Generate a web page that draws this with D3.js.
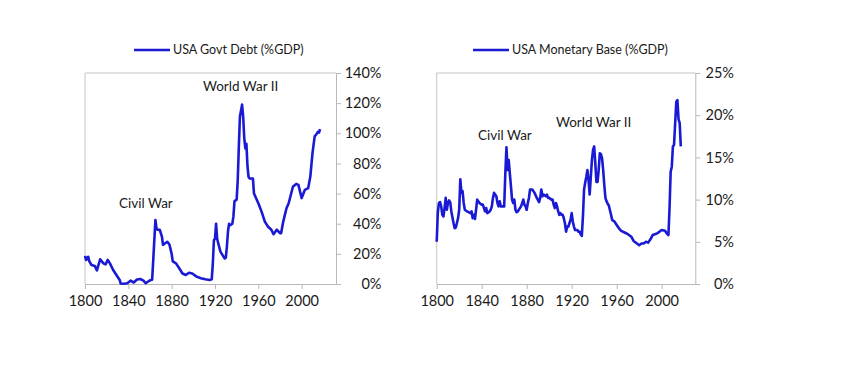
<!DOCTYPE html>
<meta charset="utf-8">
<style>
body { margin: 0; background: #fff; }
svg text { font-family: Lato, "Open Sans", sans-serif; fill: #1a1a1a; }
.axis path, .axis line { stroke: #b8b8b8; }
</style>
<svg width="852" height="366"></svg>
<script src="https://cdn.jsdelivr.net/npm/d3@7"></script>
<script>
// USA govt debt, % of GDP
var debtYears = [1800,1801,1803,1804,1806,1809,1811,1812,1814,1817,1819,1821,1823,1826,1829,1832,1833,1836,1839,1842,1845,1848,1851,1854,1856,1859,1861,1862,1863,1865,1866,1867,1869,1871,1872,1874,1876,1878,1880,1881,1884,1887,1890,1893,1896,1899,1903,1907,1911,1915,1917,1918,1919,1920,1921,1922,1923,1925,1928,1929,1930,1931,1932,1933,1934,1936,1937,1938,1940,1941,1942,1943,1945,1946,1947,1948,1949,1950,1951,1952,1955,1956,1960,1963,1966,1969,1972,1974,1977,1980,1981,1983,1986,1988,1992,1995,1997,2000,2003,2006,2008,2010,2012,2014,2015,2016,2017];
var debtValues = [18.6,16,18,15,12.6,12,9,11.5,16.4,13.7,13,16,13.7,9.3,6,2.7,0.3,0.2,0.5,2.2,1,3,3.3,2.2,0.5,2,2.7,2.8,16,42.5,37,36,36,31.5,26,27,28,26,20,15,13.7,10.4,7,6,7.5,7,4.9,3.8,3.1,2.7,3.1,13.7,29,30,40,30,27,21.5,18,17,17.5,25,35,40,39,40,44.7,55,56,69,91,111,119,111,97,90,93,78,71,70,70,60,53.6,48,41.4,38,36,33,36,33.7,33.7,41.4,50.3,53.6,64.7,66.4,65.8,57,62.5,63.6,71.3,86.8,98,99.7,101,100.5,102.8];

// USA monetary base, % of GDP
var baseYears = [1800,1801,1802,1803,1804,1805,1806,1807,1808,1809,1810,1811,1812,1813,1815,1816,1817,1819,1820,1821,1822,1823,1824,1825,1827,1830,1831,1832,1833,1834,1835,1836,1838,1840,1841,1843,1844,1845,1847,1848,1849,1850,1851,1853,1854,1855,1856,1857,1860,1861,1862,1863,1864,1865,1866,1867,1868,1869,1870,1871,1872,1875,1877,1878,1879,1880,1881,1882,1883,1885,1887,1889,1891,1892,1893,1894,1895,1897,1898,1899,1900,1902,1903,1904,1905,1906,1907,1908,1909,1910,1911,1912,1913,1914,1915,1916,1917,1918,1919,1920,1921,1922,1923,1925,1926,1927,1928,1929,1930,1931,1932,1933,1934,1935,1936,1937,1938,1939,1940,1941,1942,1943,1944,1945,1946,1947,1948,1949,1950,1951,1952,1953,1955,1956,1958,1960,1962,1964,1967,1970,1973,1975,1978,1980,1982,1984,1986,1988,1990,1992,1994,1996,1998,2000,2003,2004,2006,2007,2008,2009,2010,2011,2013,2014,2015,2016,2017];
var baseValues = [5.0,8.5,9.6,9.7,9.2,8.2,8,9,10.2,8.8,9.6,9.9,9.7,8.6,7.2,6.6,6.7,7.8,8.8,12.4,10.8,11,9.6,8.8,8.6,8.4,8.6,7.8,8.2,7.7,8.8,10,9.6,9.4,9.4,8.6,9,8.4,8.6,8.8,9.2,10.2,10.8,10.4,9.6,9.2,9.8,9.2,9.2,13.1,16.2,13.5,14.7,13.1,11.6,10,9.6,10,8.8,8.5,8.6,9.2,10,9.4,9.2,8.8,9.6,10.2,11.2,11.2,10.8,10.2,9.7,10.2,11.2,10.4,10.6,10.4,10.6,10.2,10.2,10,10,9.4,9,9.6,9.2,8.6,8.2,8.4,8.2,8.2,7.8,7.2,6.2,6.8,6.8,7.2,7.6,8.4,7.4,6.8,6.4,6.4,6.2,6.2,5.9,5.7,8,11.2,12,12.7,13.5,12.3,10.6,12.7,14.7,15.9,16.3,14.3,12.1,12.1,13.5,15.5,15.4,14.9,13.5,11.7,10.2,9.8,9.5,9.3,8.2,7.6,7.4,7,6.6,6.3,6.1,5.9,5.6,5.1,4.8,4.6,4.8,4.8,5,4.9,5.3,5.8,5.9,6,6.2,6.4,6.3,6.1,5.8,9,13.3,13.9,16.3,16.5,21.6,21.8,19.5,19.1,16.3];

var xTicks = [1800, 1840, 1880, 1920, 1960, 2000];
var debtTicks = [0, 20, 40, 60, 80, 100, 120, 140];
var baseTicks = [0, 5, 10, 15, 20, 25];

var svg = d3.select("svg");
var blue = "#1a1ad4";

function panel(opt) {
  var x = d3.scaleLinear().domain([1800, opt.xEnd]).range([opt.left, opt.right]);
  var y = d3.scaleLinear().domain([0, opt.yMax]).range([284, 73]);
  var g = svg.append("g");

  // plot frame (left + top)
  g.append("path")
    .attr("d", "M" + opt.left + ",284V73H" + opt.right)
    .attr("fill", "none")
    .attr("stroke", "#c4c4c4");

  var xa = g.append("g")
    .attr("class", "axis")
    .attr("transform", "translate(0,284)")
    .call(d3.axisBottom(x).tickValues(opt.xTicks).tickFormat(d3.format("d")).tickSize(5).tickSizeOuter(0));
  xa.selectAll("text").attr("font-size", 14.5).attr("dy", "0.95em");

  var ya = g.append("g")
    .attr("class", "axis")
    .attr("transform", "translate(" + opt.right + ",0)")
    .call(d3.axisRight(y).tickValues(opt.yTicks).tickFormat(function(d) { return d + "%"; }).tickSize(5).tickSizeOuter(0));
  ya.selectAll("text")
    .attr("font-size", 14.5)
    .attr("text-anchor", "end")
    .attr("x", opt.labelRight - opt.right);

  var line = d3.line()
    .x(function(d, i) { return x(opt.years[i]); })
    .y(function(d) { return y(d); });

  g.append("path")
    .datum(opt.values)
    .attr("d", line)
    .attr("fill", "none")
    .attr("stroke", blue)
    .attr("stroke-width", 2.6)
    .attr("stroke-linejoin", "round");

  // legend
  g.append("line")
    .attr("x1", opt.legX).attr("x2", opt.legX + 36)
    .attr("y1", 50).attr("y2", 50)
    .attr("stroke", blue).attr("stroke-width", 2.6);
  g.append("text")
    .attr("x", opt.legX + 39).attr("y", 50).attr("dy", "0.35em")
    .attr("font-size", 12.5)
    .text(opt.legend);

  opt.notes.forEach(function(n) {
    g.append("text")
      .attr("x", n[0]).attr("y", n[1]).attr("dy", "0.35em")
      .attr("font-size", 13.5)
      .text(n[2]);
  });
}

panel({
  left: 85, right: 336, xEnd: 2031.7, yMax: 140, labelRight: 381.5,
  xTicks: xTicks, yTicks: debtTicks,
  years: debtYears, values: debtValues,
  legX: 134, legend: "USA Govt Debt (%GDP)",
  notes: [[203, 86, "World War II"], [119, 203, "Civil War"]]
});

panel({
  left: 436.7, right: 695.3, xEnd: 2029.9, yMax: 25, labelRight: 734,
  xTicks: xTicks, yTicks: baseTicks,
  years: baseYears, values: baseValues,
  legX: 473, legend: "USA Monetary Base (%GDP)",
  notes: [[478, 135, "Civil War"], [556, 122, "World War II"]]
});
</script>
